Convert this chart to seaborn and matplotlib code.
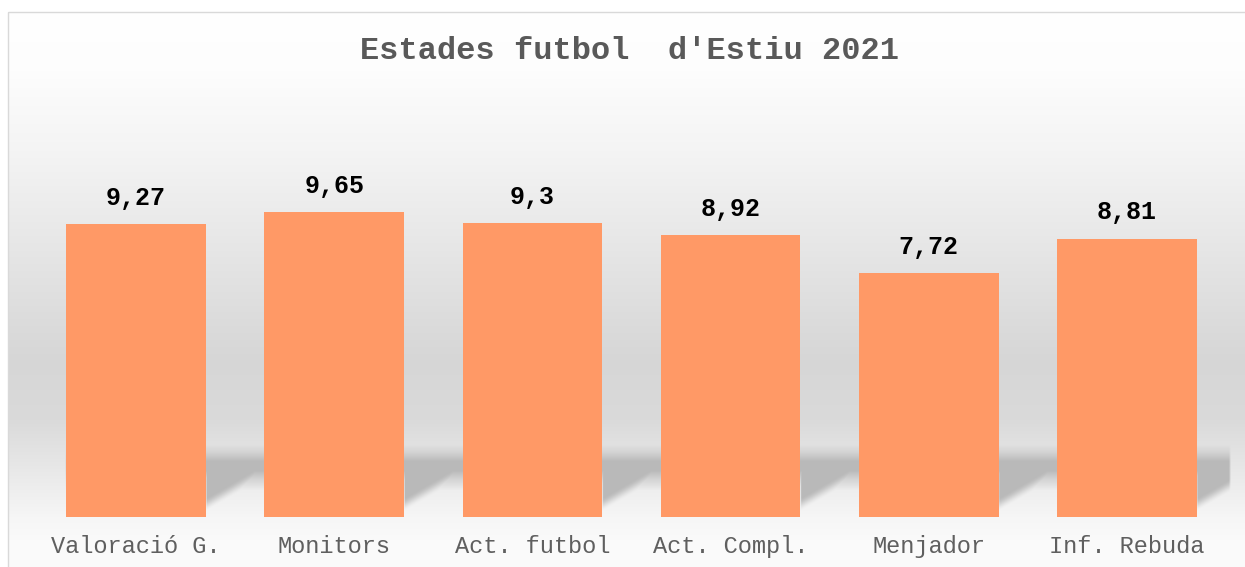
import numpy as np
import matplotlib
matplotlib.use("Agg")
import matplotlib.pyplot as plt
import seaborn as sns
from matplotlib.patches import Rectangle

categories = ["Valoració G.", "Monitors", "Act. futbol", "Act. Compl.", "Menjador", "Inf. Rebuda"]
values = [9.27, 9.65, 9.3, 8.92, 7.72, 8.81]
title = "Estades futbol  d'Estiu 2021"

W, H = 1245, 567
sns.set_style("white")
plt.rcParams['font.family'] = ['Liberation Mono', 'DejaVu Sans Mono', 'DejaVu Sans']

fig = plt.figure(figsize=(W / 100, H / 100), dpi=100)
fig.patch.set_facecolor("white")

# background axes in pixel coordinates
bg = fig.add_axes([0, 0, 1, 1], zorder=0)
bg.set_xlim(0, W)
bg.set_ylim(H, 0)
bg.axis("off")

ax = fig.add_axes([37 / W, 50 / H, (1226 - 37) / W, 379 / H], zorder=1)
ax.patch.set_alpha(0)
sns.barplot(x=categories, y=values, color="#FF9966", saturation=1, width=0.705,
            linewidth=0, ax=ax)
ax.set_ylim(0, 12)
ax.set_xlim(-0.5, len(categories) - 0.5)
ax.set_yticks([])
ax.set_ylabel("")
ax.set_xlabel("")
for s in ax.spines.values():
    s.set_visible(False)
ax.tick_params(axis="x", length=0, pad=13, labelsize=17, labelcolor="#5f5f5f")

for p, v in zip(ax.patches, values):
    ax.annotate(f"{v:g}".replace(".", ","), (p.get_x() + p.get_width() / 2, p.get_height()),
                xytext=(0, 14), textcoords="offset points", ha="center", va="baseline",
                fontsize=18, fontweight="bold", color="black")

fig.text(630 / W, 1 - 51 / H, title, ha="center", va="center", fontsize=23,
         fontweight="bold", color="#595959")

# build gradient background with floor shadow
fig.canvas.draw()
renderer = fig.canvas.get_renderer()
exts = [p.get_window_extent(renderer) for p in ax.patches]
right_edges = [e.x1 for e in exts]
first_left = min(e.x0 for e in exts)
ybase = H - ax.transData.transform((0, 0))[1]

yy, xx = np.mgrid[0:H, 0:W].astype(float)
py = [12, 70, 150, 250, 360, 420, 517, 540, 567]
pv = [255, 253, 244, 230, 214, 218, 246, 250, 250]
base = np.interp(yy[:, 0], py, pv)


def smooth(t):
    t = np.clip(t, 0, 1)
    return t * t * (3 - 2 * t)


# shadow band (top part) profile
sy = [0, 444, 452, 461, 470, 478, 490, 567]
sv_band = np.interp(yy[:, 0], sy, [1, 1, 0.6, 0, 0, 0.5, 1, 1])  # 1 = no shadow
dark = 185.0

shadow_t = np.zeros((H, W))
band_t = (1 - sv_band)[:, None] * np.ones((1, W))
for xr in right_edges:
    d = xx - xr
    yline = ybase - 10 - d * 0.58
    tri = smooth((yline - yy + 4) / 14) * smooth((yy - 455) / 8) * (d >= -1) * (yy <= ybase)
    tri = tri * smooth((d + 1) / 2)
    shadow_t = np.maximum(shadow_t, tri)

mask_x = smooth((xx[0] - first_left + 2) / 3) * smooth((1231 - xx[0]) / 3)
t = np.maximum(band_t, shadow_t) * mask_x[None, :]
img = base[:, None] * (1 - t) + dark * t

outside = (yy < 12) | (xx < 8)
img[outside] = 255
rgb = np.dstack([img, img, img]) / 255.0
bg.imshow(rgb, extent=(0, W, H, 0), aspect="auto", interpolation="bilinear", zorder=0)
bg.add_patch(Rectangle((8, 12), 1400, 700, fill=False, edgecolor="#d9d9d9", lw=1, zorder=1))
bg.set_xlim(0, W)
bg.set_ylim(H, 0)

fig.savefig("out.png", dpi=100)
